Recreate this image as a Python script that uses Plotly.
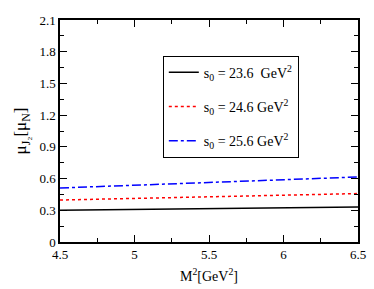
import plotly.graph_objects as go

m2 = [4.5, 5.0, 5.5, 6.0, 6.5]
mu_s236 = [0.300, 0.308, 0.315, 0.323, 0.331]
mu_s246 = [0.397, 0.412, 0.428, 0.443, 0.458]
mu_s256 = [0.511, 0.537, 0.563, 0.589, 0.615]
names = ["s<sub>0</sub> = 23.6  GeV<sup>2</sup>",
         "s<sub>0</sub> = 24.6 GeV<sup>2</sup>",
         "s<sub>0</sub> = 25.6 GeV<sup>2</sup>"]

FONT = "Liberation Serif"

fig = go.Figure()
for i, (ys, col, dash) in enumerate([(mu_s236, "black", "solid"),
                                     (mu_s246, "red", "dot"),
                                     (mu_s256, "blue", "dashdot")]):
    fig.add_trace(go.Scatter(x=m2, y=ys, mode="lines", name=names[i],
                             legendgroup=f"g{i}",
                             line=dict(color=col, width=1.5, dash=dash)))

axis_common = dict(showline=True, linecolor="black", linewidth=1.5, mirror="ticks",
                   ticks="inside", ticklen=7, tickwidth=1.2, tickcolor="black",
                   showgrid=False, zeroline=False, automargin=False,
                   tickfont=dict(family=FONT, size=13, color="black"))

fig.update_xaxes(range=[4.5, 6.5], tickvals=[4.5, 5, 5.5, 6, 6.5],
                 ticktext=["4.5", "5", "5.5", "6", "6.5"],
                 minor=dict(dtick=0.25, tick0=4.5, ticks="inside", ticklen=4, tickcolor="black"),
                 title=dict(text="M<sup>2</sup>[GeV<sup>2</sup>]", font=dict(family=FONT, size=14, color="black"), standoff=10),
                 **axis_common)
fig.update_yaxes(range=[0, 2.1], tickvals=[0, 0.3, 0.6, 0.9, 1.2, 1.5, 1.8, 2.1],
                 ticktext=["0", "0.3", "0.6", "0.9", "1.2", "1.5", "1.8", "2.1"],
                 minor=dict(dtick=0.15, tick0=0, ticks="inside", ticklen=4, tickcolor="black"),
                 title=dict(text="μ<sub>J₂</sub>[μ<sub>N</sub>]", font=dict(family=FONT, size=17, color="black"), standoff=8),
                 **axis_common)

fig.update_layout(width=374, height=289, margin=dict(l=60, r=16, t=20, b=47),
                  paper_bgcolor="white", plot_bgcolor="white",
                  showlegend=True,
                  legend=dict(x=0.345, y=0.839, xanchor="left", yanchor="top",
                              bordercolor="black", borderwidth=1, bgcolor="white",
                              font=dict(family=FONT, size=14, color="black"),
                              tracegroupgap=13, itemwidth=30))

fig.write_html("out.html", config={"displayModeBar": False},
               post_script="document.body.style.margin='0';")
